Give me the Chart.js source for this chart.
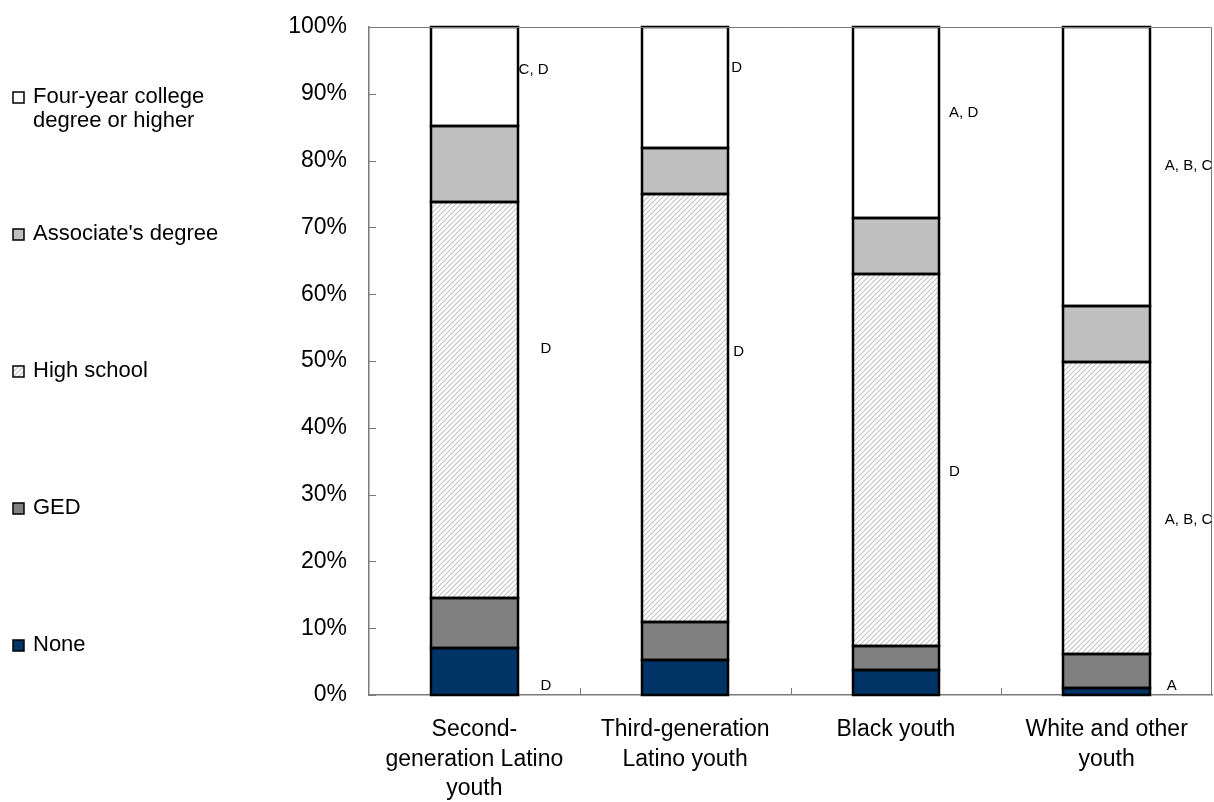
<!DOCTYPE html>
<html lang="en">
<head>
  <meta charset="UTF-8">
  <title>Educational attainment by group</title>
  <style>
    body { margin: 0; background: #fff; }
    #wrap { width: 1214px; height: 802px; }
  </style>
  <script src="https://cdn.jsdelivr.net/npm/chart.js"></script>
</head>
<body>
  <div id="wrap"><canvas id="chart" width="1214" height="802"></canvas></div>

  <script>
    // categories and series (percent of each group)
    const categories = [
      ["Second-", "generation Latino", "youth"],
      ["Third-generation", "Latino youth"],
      "Black youth",
      ["White and other", "youth"]
    ];
    const seriesNames = ["None", "GED", "High school", "Associate's degree", "Four-year college degree or higher"];
    const noneVals      = [7.0, 5.2, 3.7, 1.0];
    const gedVals       = [7.5, 5.7, 3.6, 5.1];
    const highSchoolVals = [59.3, 64.1, 55.7, 43.8];
    const associateVals = [11.4, 6.9, 8.4, 8.3];
    const collegeVals   = [14.8, 18.1, 28.6, 41.8];

    // significance notes next to the bars
    const noteBar  = [0, 0, 0, 1, 1, 2, 2, 3, 3, 3];
    const noteText = ["C, D", "D", "D", "D", "D", "A, D", "D", "A, B, C", "A, B, C", "A"];
    // where each note sits: value on the y axis and gap from the bar's right side
    const noteAt  = [93.6, 51.8, 1.3, 93.9, 51.3, 87.1, 33.4, 79.2, 26.2, 1.3];
    const noteGap = [1, 23, 23, 3, 5, 10, 10, 15, 15, 17];

    const FONT = '"Liberation Sans", Arial, sans-serif';
    const AXIS = '#7a7a7a';

    // light diagonal hatch for "High school"
    function hatch() {
      const c = document.createElement('canvas');
      c.width = 5; c.height = 5;
      const g = c.getContext('2d');
      g.fillStyle = '#fff';
      g.fillRect(0, 0, 5, 5);
      g.strokeStyle = '#c2c2c2';
      g.lineWidth = 1.1;
      g.beginPath();
      g.moveTo(0, 5); g.lineTo(5, 0);
      g.moveTo(-1, 1); g.lineTo(1, -1);
      g.moveTo(4, 6); g.lineTo(6, 4);
      g.stroke();
      return g.createPattern(c, 'repeat');
    }
    const hsPattern = hatch();

    const fills = ['#003366', '#808080', hsPattern, '#c0c0c0', '#ffffff'];
    const values = [noneVals, gedVals, highSchoolVals, associateVals, collegeVals];

    const datasets = seriesNames.map((name, i) => ({
      label: name,
      data: values[i],
      backgroundColor: fills[i],
      borderWidth: 0,
      inflateAmount: 0,
      barPercentage: 0.41,
      categoryPercentage: 1
    }));

    // black outline round every segment, centred on its edges
    const outlines = {
      id: 'outlines',
      afterDatasetsDraw(chart) {
        const ctx = chart.ctx;
        ctx.save();
        ctx.strokeStyle = '#000';
        ctx.lineWidth = 2.5;
        chart.data.datasets.forEach((ds, di) => {
          chart.getDatasetMeta(di).data.forEach(bar => {
            const { x, y, base, width } = bar.getProps(['x', 'y', 'base', 'width'], true);
            const l = Math.round(x - width / 2), r = Math.round(x + width / 2);
            const t = Math.round(Math.min(y, base)), b = Math.round(Math.max(y, base));
            ctx.strokeRect(l, t, r - l, b - t);
          });
        });
        ctx.restore();
      }
    };

    // frame, inward ticks, notes and legend
    const extras = {
      id: 'extras',
      afterDraw(chart) {
        const ctx = chart.ctx;
        const a = chart.chartArea;
        const x = chart.scales.x, y = chart.scales.y;
        ctx.save();
        ctx.strokeStyle = AXIS;
        ctx.lineWidth = 1;
        ctx.beginPath();
        ctx.moveTo(a.left, a.top + 0.5); ctx.lineTo(a.right - 0.5, a.top + 0.5);
        ctx.lineTo(a.right - 0.5, a.bottom);
        y.ticks.forEach(t => {
          const py = Math.round(y.getPixelForValue(t.value)) + 0.5;
          ctx.moveTo(a.left, py); ctx.lineTo(a.left + 7, py);
        });
        for (let i = 0; i < categories.length - 1; i++) {
          const px = Math.round((x.getPixelForValue(i) + x.getPixelForValue(i + 1)) / 2) + 0.5;
          ctx.moveTo(px, a.bottom); ctx.lineTo(px, a.bottom - 7);
        }
        ctx.stroke();

        // notes
        ctx.save();
        ctx.beginPath();
        ctx.rect(0, 0, a.right, chart.height);
        ctx.clip();
        const bars = chart.getDatasetMeta(0).data;
        ctx.fillStyle = '#000';
        ctx.font = '15px ' + FONT;
        ctx.textAlign = 'left';
        ctx.textBaseline = 'middle';
        noteText.forEach((t, i) => {
          const b = bars[noteBar[i]];
          ctx.fillText(t, b.x + b.width / 2 + noteGap[i], y.getPixelForValue(noteAt[i]));
        });
        ctx.restore();

        // legend, top item first
        ctx.font = '22px ' + FONT;
        ctx.textBaseline = 'middle';
        const order = chart.data.datasets.map((d, i) => i).reverse();
        order.forEach((di, k) => {
          const ds = chart.data.datasets[di];
          const cy = 97 + k * 137;
          ctx.fillStyle = ds.backgroundColor;
          ctx.fillRect(13, cy - 5, 11, 11);
          ctx.strokeStyle = '#000';
          ctx.lineWidth = 1.5;
          ctx.strokeRect(13, cy - 5, 11, 11);
          // wrap label
          const words = ds.label.split(' ');
          const lines = [];
          let line = '';
          words.forEach(w => {
            const test = line ? line + ' ' + w : w;
            if (ctx.measureText(test).width > 200 && line) { lines.push(line); line = w; }
            else line = test;
          });
          lines.push(line);
          ctx.fillStyle = '#000';
          lines.forEach((l, j) => ctx.fillText(l, 33, cy + j * 24));
        });
        ctx.restore();
      }
    };

    new Chart(document.getElementById('chart'), {
      type: 'bar',
      data: { labels: categories, datasets },
      plugins: [outlines, extras],
      options: {
        responsive: false,
        animation: false,
        events: [],
        layout: { padding: { left: 0, right: 2, top: 27, bottom: 0 } },
        plugins: { legend: { display: false }, tooltip: { enabled: false } },
        scales: {
          x: {
            stacked: true,
            grid: { display: false, drawTicks: false },
            border: { display: true, color: AXIS, width: 1.5 },
            ticks: {
              color: '#000',
              padding: 20,
              maxRotation: 0,
              font: { family: FONT, size: 23, lineHeight: 1.28 }
            },
            afterFit(s) { s.height = 107; s.paddingLeft = 0; s.paddingRight = 0; }
          },
          y: {
            stacked: true,
            min: 0,
            max: 100,
            grid: { display: false, drawTicks: false },
            border: { display: true, color: AXIS, width: 1.5 },
            ticks: {
              stepSize: 10,
              color: '#000',
              padding: 22,
              font: { family: FONT, size: 23 },
              callback: v => v + '%'
            },
            afterFit(s) { s.width = 369; s.paddingTop = 0; s.paddingBottom = 0; }
          }
        }
      }
    });
  </script>
</body>
</html>
